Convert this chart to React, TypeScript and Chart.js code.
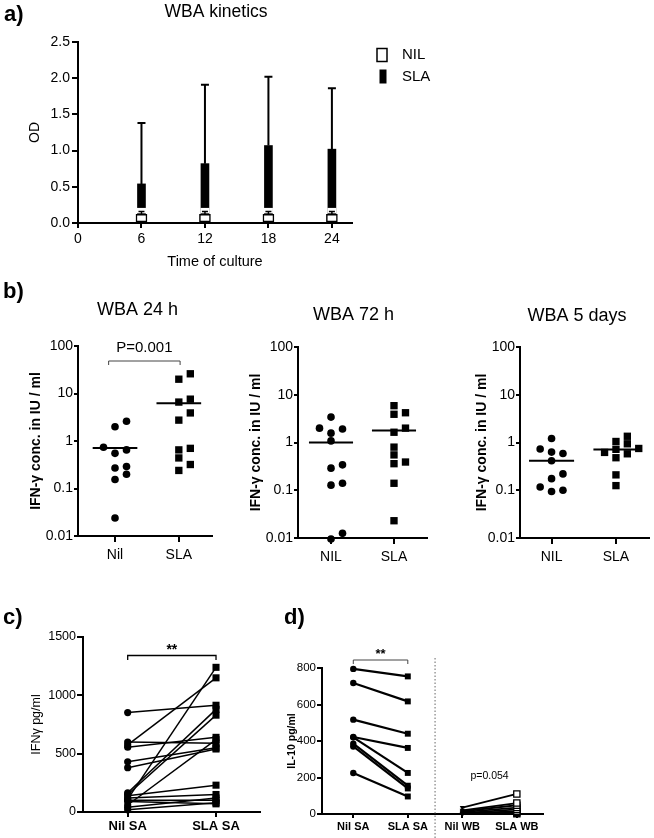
import React, { useEffect, useRef } from 'react';
import { Chart, registerables } from 'chart.js';
Chart.register(...registerables);

const W = 654;
const H = 838;
const FONT = "'Liberation Sans', Arial, Helvetica, sans-serif";
Chart.defaults.font.family = FONT;
Chart.defaults.color = '#000';

// ---------- Panel a: WBA kinetics ----------
const kineticsHours = [6, 12, 18, 24];
const kineticsTicks = [0, 6, 12, 18, 24];
const odTicks = [0, 0.5, 1, 1.5, 2, 2.5];
const nilOD = [0.12, 0.12, 0.12, 0.12];
const nilODErr = [0.16, 0.16, 0.16, 0.16];
const slaOD = [0.54, 0.82, 1.07, 1.02];
const slaODErr = [1.38, 1.91, 2.02, 1.86];

// ---------- Panel b: IFN-γ (log) ----------
const logTicks = [0.01, 0.1, 1, 10, 100];
const logTickLabels = ['0.01', '0.1', '1', '10', '100'];
const b24Nil = [2.6, 2.0, 0.74, 0.65, 0.55, 0.29, 0.27, 0.2, 0.155, 0.024];
const b24Sla = [26, 20, 7.6, 6.6, 3.9, 2.75, 0.7, 0.65, 0.44, 0.32, 0.24];
const b24Medians = [0.71, 6.2];
const b72Nil = [3.4, 2.0, 1.92, 1.57, 1.08, 0.34, 0.29, 0.14, 0.128, 0.0125, 0.0095];
const b72Sla = [5.9, 4.2, 3.9, 2.0, 1.64, 0.8, 0.55, 0.39, 0.36, 0.14, 0.023];
const b72Medians = [1.0, 1.78];
const b5dNil = [1.21, 0.73, 0.63, 0.59, 0.415, 0.22, 0.175, 0.117, 0.1, 0.094];
const b5dSla = [1.35, 1.05, 0.94, 0.75, 0.72, 0.62, 0.58, 0.48, 0.21, 0.125];
const b5dMedians = [0.415, 0.71];

// ---------- Panel c: IFNγ pg/ml paired ----------
const cTicks = [0, 500, 1000, 1500];
const cCats = ['Nil SA', 'SLA SA'];
const cNilSA = [852, 600, 575, 555, 430, 380, 165, 150, 140, 120, 110, 100, 60, 40, 20, 90];
const cSlaSA = [915, 590, 1150, 640, 550, 540, 880, 830, 230, 150, 1240, 100, 620, 120, 80, 70];

// ---------- Panel d: IL-10 pg/ml paired ----------
const dTicks = [0, 200, 400, 600, 800];
const dCats = ['Nil SA', 'SLA SA', 'Nil WB', 'SLA WB'];
const dNilSA = [795, 718, 517, 422, 420, 385, 370, 225];
const dSlaSA = [754, 617, 440, 362, 225, 155, 140, 96];
const dNilWB = [35, 20, 15, 10, 5, 2, 0, 0];
const dSlaWB = [110, 60, 48, 35, 25, 15, 8, 2];

type Area = { l: number; t: number; r: number; b: number };

function txt(ctx: any, s: string, x: number, y: number, size: number, bold = false, align = 'center', color = '#000') {
  ctx.save();
  ctx.font = `${bold ? 'bold ' : ''}${size}px ${FONT}`;
  ctx.fillStyle = color;
  ctx.textAlign = align;
  ctx.textBaseline = 'middle';
  ctx.fillText(s, x, y);
  ctx.restore();
}

function bracket(ctx: any, x1: number, x2: number, y: number, drop: number, lw: number, color: string) {
  ctx.save();
  ctx.strokeStyle = color;
  ctx.lineWidth = lw;
  ctx.beginPath();
  ctx.moveTo(x1, y + drop);
  ctx.lineTo(x1, y);
  ctx.lineTo(x2, y);
  ctx.lineTo(x2, y + drop);
  ctx.stroke();
  ctx.restore();
}

function layoutFor(area: Area, yW: number, xH: number) {
  return { padding: { left: area.l - yW, top: area.t, right: W - area.r, bottom: H - area.b - xH } };
}

function axisCommon(tickLength: number, fixed: (s: any) => void, ticks: number[], labels: (v: number, i: number) => string, tickFont: any, tickPad: number) {
  return {
    bounds: 'data',
    offset: false,
    afterFit: fixed,
    afterBuildTicks: (s: any) => {
      s.ticks = ticks.map((v) => ({ value: v }));
    },
    ticks: {
      callback: (v: any, i: number) => labels(v, i),
      font: tickFont,
      color: '#000',
      padding: tickPad,
      autoSkip: false,
      maxRotation: 0,
      minRotation: 0,
    },
    grid: { display: true, drawOnChartArea: false, drawTicks: true, tickLength, color: '#000', lineWidth: 2, offset: false },
    border: { display: true, color: '#000', width: 2 },
  };
}

const baseOptions = (layout: any, scales: any, plugins: any = {}) => ({
  responsive: false,
  animation: false,
  events: [],
  layout,
  scales,
  plugins: { legend: { display: false }, tooltip: { enabled: false }, title: { display: false }, ...plugins },
});

// ---------- beeswarm for dot plots ----------
function swarm(values: number[], cat: number, unitPx: number, decadePx: number, stepPx: number, minDist: number) {
  const idx = values.map((_, i) => i).sort((a, b) => values[a] - values[b]);
  const placed: { x: number; y: number }[] = [];
  const out: any[] = new Array(values.length);
  for (const i of idx) {
    const py = Math.log10(values[i]) * decadePx;
    for (const k of [0, 1, -1, 2, -2, 3, -3]) {
      const px = k * stepPx;
      if (placed.every((p) => Math.abs(p.x - px) >= minDist || Math.abs(p.y - py) >= minDist)) {
        placed.push({ x: px, y: py });
        out[i] = { x: cat + px / unitPx, y: values[i] };
        break;
      }
    }
  }
  return out;
}

// ---------- Panel a ----------
function makeA(canvas: HTMLCanvasElement) {
  const area: Area = { l: 78, t: 42, r: 352, b: 223 };
  const yTitleSize = 14;
  const xTitleSize = 14.5;
  const yW = area.l - (35 - yTitleSize * 0.6);
  const xH = 262 + xTitleSize * 0.6 - area.b;
  const errPlugin = {
    id: 'errbars',
    afterDatasetsDraw(chart: any) {
      const ctx = chart.ctx;
      const ys = chart.scales.y;
      chart.data.datasets.forEach((ds: any, di: number) => {
        const meta = chart.getDatasetMeta(di);
        meta.data.forEach((bar: any, i: number) => {
          const x = bar.x;
          const top = bar.y;
          const e = ys.getPixelForValue(ds.errTop[i]);
          ctx.save();
          if (ds.halo) {
            ctx.fillStyle = '#fff';
            ctx.fillRect(x - 4.5, e - 3.5, 9, top - e + 2.5);
          }
          ctx.strokeStyle = '#000';
          ctx.lineWidth = ds.halo ? 1.5 : 2;
          const cap = ds.halo ? 3 : 4;
          ctx.beginPath();
          ctx.moveTo(x, top);
          ctx.lineTo(x, e);
          ctx.moveTo(x - cap, e);
          ctx.lineTo(x + cap, e);
          ctx.stroke();
          ctx.restore();
        });
      });
    },
    afterDraw(chart: any) {
      const ctx = chart.ctx;
      txt(ctx, 'a)', 4, 15, 22, true, 'left');
      txt(ctx, 'WBA kinetics', 216, 12, 17.5);
      const ds = chart.data.datasets;
      ctx.save();
      ctx.fillStyle = '#fff';
      ctx.strokeStyle = '#000';
      ctx.lineWidth = 1.5;
      ctx.fillRect(377, 48.5, 10, 13);
      ctx.strokeRect(377, 48.5, 10, 13);
      ctx.fillStyle = '#000';
      ctx.fillRect(379.5, 69.5, 7, 14);
      ctx.restore();
      txt(ctx, ds[0].label, 402, 55, 15, false, 'left');
      txt(ctx, ds[1].label, 402, 77, 15, false, 'left');
    },
  };
  return new Chart(canvas, {
    type: 'bar',
    data: {
      datasets: [
        {
          label: 'NIL',
          data: kineticsHours.map((h, i) => ({ x: h, y: nilOD[i] })),
          backgroundColor: '#fff',
          borderColor: '#000',
          borderWidth: 1.5,
          borderSkipped: false,
          barThickness: 11,
          grouped: false,
          errTop: nilODErr,
          halo: true,
        },
        {
          label: 'SLA',
          data: kineticsHours.map((h, i) => ({ x: h, y: slaOD[i] })),
          backgroundColor: '#000',
          borderWidth: 0,
          barThickness: 8,
          grouped: false,
          errTop: slaODErr,
        },
      ],
    } as any,
    options: baseOptions(layoutFor(area, yW, xH), {
      x: {
        type: 'linear',
        min: 0,
        max: 25.9,
        ...axisCommon(5, (s) => { s.height = xH; }, kineticsTicks, (v) => String(v), { size: 14 }, 3),
        title: { display: true, text: 'Time of culture', font: { size: xTitleSize }, color: '#000', padding: 0 },
      },
      y: {
        type: 'linear',
        min: 0,
        max: 2.5,
        ...axisCommon(6, (s) => { s.width = yW; }, odTicks, (v) => Number(v).toFixed(1), { size: 14 }, 2),
        title: { display: true, text: 'OD', font: { size: yTitleSize }, color: '#000', padding: 0 },
      },
    }) as any,
    plugins: [errPlugin],
  });
}

// ---------- Panel b ----------
function makeDot(canvas: HTMLCanvasElement, cfg: any) {
  const { area, yTitleX, xMin, xMax, cats, nil, sla, medians, title, titleX, titleY, extra } = cfg;
  const yTitleSize = 14;
  const yW = area.l - (yTitleX - yTitleSize * 0.6);
  const xH = 40;
  const unitPx = (area.r - area.l) / (xMax - xMin);
  const decadePx = (area.b - area.t) / 4;
  const nilPts = swarm(nil, 1, unitPx, decadePx, 11.5, 7.5);
  const slaPts = swarm(sla, 2, unitPx, decadePx, 11.5, 7.5);
  const half = 0.35;
  const plugin = {
    id: 'dotExtras',
    afterDraw(chart: any) {
      const ctx = chart.ctx;
      txt(ctx, title, titleX, titleY, 18);
      if (extra) extra(ctx, chart);
    },
  };
  return new Chart(canvas, {
    type: 'scatter',
    data: {
      datasets: [
        {
          data: nilPts,
          pointStyle: 'circle',
          pointRadius: 3.8,
          pointBackgroundColor: '#000',
          pointBorderColor: '#000',
          pointBorderWidth: 0,
          clip: false,
        },
        {
          data: slaPts,
          pointStyle: 'rect',
          pointRadius: 5.2,
          pointBackgroundColor: '#000',
          pointBorderColor: '#000',
          pointBorderWidth: 0,
          clip: false,
        },
        ...medians.map((m: number, k: number) => ({
          data: [
            { x: k + 1 - half, y: m },
            { x: k + 1 + half, y: m },
          ],
          showLine: true,
          borderColor: '#000',
          borderWidth: 2,
          pointRadius: 0,
          clip: false,
        })),
      ],
    } as any,
    options: baseOptions(layoutFor(area, yW, xH), {
      x: {
        type: 'linear',
        min: xMin,
        max: xMax,
        ...axisCommon(6, (s) => { s.height = xH; }, [1, 2], (v) => cats[Math.round(v) - 1], { size: 14 }, 5),
      },
      y: {
        type: 'logarithmic',
        min: 0.01,
        max: 100,
        ...axisCommon(4, (s) => { s.width = yW; }, logTicks, (v, i) => logTickLabels[i], { size: 14 }, 1),
        title: { display: true, text: 'IFN-γ conc. in IU / ml', font: { size: yTitleSize, weight: 'bold' }, color: '#000', padding: 0 },
      },
    }) as any,
    plugins: [plugin],
  });
}

// ---------- Panel c ----------
function makeC(canvas: HTMLCanvasElement) {
  const area: Area = { l: 83, t: 637, r: 260, b: 812 };
  const yTitleSize = 12.5;
  const yW = area.l - (37 - yTitleSize * 0.6);
  const xH = 26;
  const plugin = {
    id: 'cExtras',
    afterDraw(chart: any) {
      const ctx = chart.ctx;
      const xs = chart.scales.x;
      txt(ctx, 'c)', 3, 618, 22, true, 'left');
      const x1 = xs.getPixelForValue(1);
      const x2 = xs.getPixelForValue(2);
      bracket(ctx, x1, x2, 655.5, 4.5, 1.3, '#000');
      txt(ctx, '**', (x1 + x2) / 2, 650, 14, true);
    },
  };
  return new Chart(canvas, {
    type: 'scatter',
    data: {
      datasets: cNilSA.map((v, i) => ({
        data: [
          { x: 1, y: v },
          { x: 2, y: cSlaSA[i] },
        ],
        showLine: true,
        borderColor: '#000',
        borderWidth: 1.5,
        pointStyle: ['circle', 'rect'],
        pointRadius: [3.6, 5],
        pointBackgroundColor: '#000',
        pointBorderColor: '#000',
        pointBorderWidth: 0,
        clip: false,
      })),
    } as any,
    options: baseOptions(layoutFor(area, yW, xH), {
      x: {
        type: 'linear',
        min: 0.494,
        max: 2.498,
        ...axisCommon(5, (s) => { s.height = xH; }, [1, 2], (v) => cCats[Math.round(v) - 1], { size: 13, weight: 'bold' }, 2),
      },
      y: {
        type: 'linear',
        min: 0,
        max: 1500,
        ...axisCommon(6, (s) => { s.width = yW; }, cTicks, (v) => String(v), { size: 12.5 }, 1),
        title: { display: true, text: 'IFNγ pg/ml', font: { size: yTitleSize }, color: '#000', padding: 0 },
      },
    }) as any,
    plugins: [plugin],
  });
}

// ---------- Panel d ----------
function makeD(canvas: HTMLCanvasElement) {
  const area: Area = { l: 322, t: 668, r: 543, b: 814 };
  const yTitleSize = 10.5;
  const yW = area.l - (291.7 - yTitleSize * 0.6);
  const xH = 24;
  const plugin = {
    id: 'dExtras',
    beforeDatasetsDraw(chart: any) {
      const ctx = chart.ctx;
      const xs = chart.scales.x;
      const xd = xs.getPixelForValue(2.5);
      ctx.save();
      ctx.strokeStyle = '#666';
      ctx.lineWidth = 1;
      ctx.setLineDash([1.5, 2]);
      ctx.beginPath();
      ctx.moveTo(xd, 658);
      ctx.lineTo(xd, H);
      ctx.stroke();
      ctx.restore();
    },
    afterDraw(chart: any) {
      const ctx = chart.ctx;
      const xs = chart.scales.x;
      txt(ctx, 'd)', 284, 618, 22, true, 'left');
      const x1 = xs.getPixelForValue(1);
      const x2 = xs.getPixelForValue(2);
      bracket(ctx, x1, x2, 660, 4, 1, '#444');
      txt(ctx, '**', (x1 + x2) / 2, 654, 13, true);
      txt(ctx, 'p=0.054', (xs.getPixelForValue(3) + xs.getPixelForValue(4)) / 2, 776.5, 10.5);
    },
  };
  const sa = dNilSA.map((v, i) => ({
    data: [
      { x: 1, y: v },
      { x: 2, y: dSlaSA[i] },
    ],
    showLine: true,
    borderColor: '#000',
    borderWidth: 2.2,
    pointStyle: ['circle', 'rect'],
    pointRadius: [3.2, 4.2],
    pointBackgroundColor: '#000',
    pointBorderColor: '#000',
    pointBorderWidth: 0,
    clip: false,
  }));
  const wb = dNilWB.map((v, i) => ({
    data: [
      { x: 3, y: v },
      { x: 4, y: dSlaWB[i] },
    ],
    showLine: true,
    borderColor: '#000',
    borderWidth: 1.8,
    pointStyle: ['triangle', 'rect'],
    pointRotation: [180, 0],
    pointRadius: [3, 4.4],
    pointBackgroundColor: ['#000', '#fff'],
    pointBorderColor: '#000',
    pointBorderWidth: [0, 1.3],
    clip: false,
  }));
  return new Chart(canvas, {
    type: 'scatter',
    data: { datasets: [...sa, ...wb] } as any,
    options: baseOptions(layoutFor(area, yW, xH), {
      x: {
        type: 'linear',
        min: 0.426,
        max: 4.48,
        ...axisCommon(4, (s) => { s.height = xH; }, [1, 2, 3, 4], (v) => dCats[Math.round(v) - 1], { size: 11, weight: 'bold' }, 2),
      },
      y: {
        type: 'linear',
        min: 0,
        max: 800,
        ...axisCommon(5, (s) => { s.width = yW; }, dTicks, (v) => String(v), { size: 11.5 }, 1),
        title: { display: true, text: 'IL-10 pg/ml', font: { size: yTitleSize, weight: 'bold' }, color: '#000', padding: 0 },
      },
    }) as any,
    plugins: [plugin],
  });
}

export default function App() {
  const refs = [useRef<HTMLCanvasElement>(null), useRef<HTMLCanvasElement>(null), useRef<HTMLCanvasElement>(null), useRef<HTMLCanvasElement>(null), useRef<HTMLCanvasElement>(null), useRef<HTMLCanvasElement>(null)];
  useEffect(() => {
    const charts = [
      makeA(refs[0].current as HTMLCanvasElement),
      makeDot(refs[1].current as HTMLCanvasElement, {
        area: { l: 78, t: 346, r: 212, b: 536 },
        yTitleX: 36,
        xMin: 0.42,
        xMax: 2.52,
        cats: ['Nil', 'SLA'],
        nil: b24Nil,
        sla: b24Sla,
        medians: b24Medians,
        title: 'WBA 24 h',
        titleX: 137.5,
        titleY: 310,
        extra: (ctx: any, chart: any) => {
          const xs = chart.scales.x;
          txt(ctx, 'b)', 3, 291.5, 22, true, 'left');
          const x1 = xs.getPixelForValue(0.9);
          const x2 = xs.getPixelForValue(2.02);
          bracket(ctx, x1, x2, 361, 4, 1, '#444');
          txt(ctx, 'P=0.001', (x1 + x2) / 2, 348, 15);
        },
      }),
      makeDot(refs[2].current as HTMLCanvasElement, {
        area: { l: 298, t: 347, r: 427, b: 538 },
        yTitleX: 256,
        xMin: 0.476,
        xMax: 2.524,
        cats: ['NIL', 'SLA'],
        nil: b72Nil,
        sla: b72Sla,
        medians: b72Medians,
        title: 'WBA 72 h',
        titleX: 353.5,
        titleY: 315,
      }),
      makeDot(refs[3].current as HTMLCanvasElement, {
        area: { l: 520, t: 347, r: 650, b: 538 },
        yTitleX: 481.7,
        xMin: 0.51,
        xMax: 2.51,
        cats: ['NIL', 'SLA'],
        nil: b5dNil,
        sla: b5dSla,
        medians: b5dMedians,
        title: 'WBA 5 days',
        titleX: 577,
        titleY: 316.5,
      }),
      makeC(refs[4].current as HTMLCanvasElement),
      makeD(refs[5].current as HTMLCanvasElement),
    ];
    return () => charts.forEach((c) => c.destroy());
  }, []);
  return (
    <div style={{ position: 'fixed', left: 0, top: 0, width: W, height: H, background: '#fff', overflow: 'hidden' }}>
      {refs.map((r, i) => (
        <canvas key={i} ref={r} width={W} height={H} style={{ position: 'absolute', left: 0, top: 0, width: W, height: H }} />
      ))}
    </div>
  );
}
